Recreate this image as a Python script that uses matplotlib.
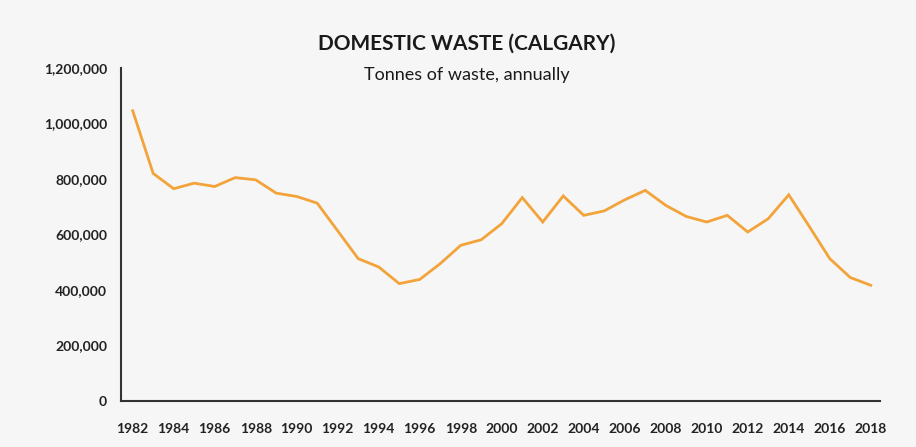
import matplotlib
matplotlib.use("Agg")
import matplotlib.pyplot as plt

years = list(range(1982, 2019))
tonnes = [1046000, 820000, 765000, 785000, 773000, 805000, 797000, 749000, 737000, 713000,
          613000, 513000, 483000, 423000, 438000, 495000, 561000, 581000, 639000, 733000,
          645000, 739000, 669000, 685000, 725000, 759000, 705000, 665000, 645000, 669000,
          609000, 657000, 743000, 629000, 513000, 445000, 417000]
xtick_years = list(range(1982, 2019, 2))
ytick_vals = [0, 200000, 400000, 600000, 800000, 1000000, 1200000]
ytick_labels = ["0", "200,000", "400,000", "600,000", "800,000", "1,000,000", "1,200,000"]

plt.rcParams['font.family'] = ['Lato', 'DejaVu Sans']

W, H = 916, 447
fig = plt.figure(figsize=(W / 100, H / 100), dpi=100)
bg = '#f6f6f6'
fig.patch.set_facecolor(bg)
ax = fig.add_axes([121 / W, 1 - 401 / H, (880 - 121) / W, (401 - 68) / H])
ax.set_facecolor(bg)

ax.plot(years, tonnes, color='#f2a33a', lw=2.0, solid_joinstyle='miter')

ax.set_xlim(1981.43, 2018.45)
ax.set_ylim(0, 1200000)
ax.set_xticks(xtick_years)
ax.set_xticklabels([str(y) for y in xtick_years], fontsize=10, fontweight='bold', color='#222222')
ax.set_yticks(ytick_vals)
ax.set_yticklabels(ytick_labels, fontsize=10, fontweight='bold', color='#222222')
ax.tick_params(axis='both', length=0)
ax.tick_params(axis='x', pad=16)
ax.tick_params(axis='y', pad=10)

for s in ['top', 'right']:
    ax.spines[s].set_visible(False)
for s in ['left', 'bottom']:
    ax.spines[s].set_color('#333333')
    ax.spines[s].set_linewidth(1.5)

fig.text(467 / W, 1 - 44 / H, "DOMESTIC WASTE (CALGARY)", ha='center', va='center',
         fontsize=15, fontweight='bold', color='#1a1a1a')
fig.text(467 / W, 1 - 75 / H, "Tonnes of waste, annually", ha='center', va='center',
         fontsize=13, color='#1a1a1a')

fig.savefig("out.png", dpi=100, facecolor=bg)
